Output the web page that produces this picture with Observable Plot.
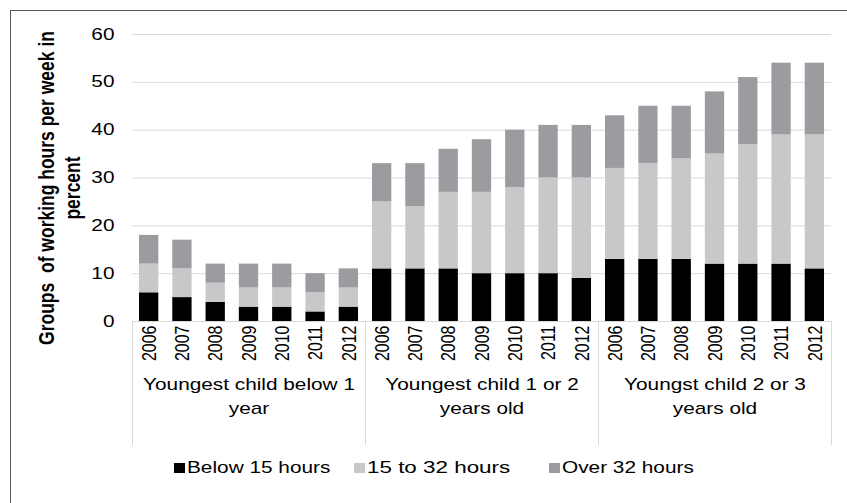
<!DOCTYPE html>
<html>
<head>
<meta charset="utf-8">
<script src="https://cdn.jsdelivr.net/npm/d3@7"></script>
<script src="https://cdn.jsdelivr.net/npm/@observablehq/plot@0.6"></script>
<style>
  html, body { margin: 0; padding: 0; background: #fff; }
  #wrap { position: relative; width: 847px; height: 503px; overflow: hidden; font-family: "Liberation Sans", Arial, sans-serif; }
  #frameTop { position: absolute; left: 10px; top: 10px; width: 837px; height: 0; border-top: 1px solid #595959; }
  #frameLeft { position: absolute; left: 10px; top: 10px; width: 0; height: 493px; border-left: 1px solid #595959; }
  #chart { position: absolute; left: 0; top: 0; }
  #legend { position: absolute; left: 0; top: 456px; width: 847px; height: 24px; font-size: 16px; line-height: 24px; color: #000; white-space: nowrap; }
  .sw { position: absolute; top: 7px; width: 11px; height: 10px; }
  .lt { position: absolute; top: 0; transform-origin: 0 50%; }
</style>
</head>
<body>
<div id="wrap">
  <div id="frameTop"></div>
  <div id="frameLeft"></div>
  <div id="chart"></div>
  <div id="legend"></div>
</div>
<script>
// ---- data ----
const groups = ["Youngest child below 1\nyear", "Youngest child 1 or 2\nyears old", "Youngst child 2 or 3\nyears old"];
const years = ["2006", "2007", "2008", "2009", "2010", "2011", "2012"];
const seriesNames = ["Below 15 hours", "15 to 32 hours", "Over 32 hours"];
const seriesColors = ["#000000", "#c7c8ca", "#9b9c9f"];
const below15 = [6, 5, 4, 3, 3, 2, 3, 11, 11, 11, 10, 10, 10, 9, 13, 13, 13, 12, 12, 12, 11];
const from15to32 = [6, 6, 4, 4, 4, 4, 4, 14, 13, 16, 17, 18, 20, 21, 19, 20, 21, 23, 25, 27, 28];
const over32 = [6, 6, 4, 5, 5, 4, 4, 8, 9, 9, 11, 12, 11, 11, 11, 12, 11, 13, 14, 15, 15];
const yTicks = [0, 10, 20, 30, 40, 50, 60];
const yTitle = "Groups  of working hours per week in\npercent";

// ---- table ----
const seriesValues = [below15, from15to32, over32];
const nBars = groups.length * years.length;
const rows = [];
for (let i = 0; i < nBars; i++) {
  seriesNames.forEach((s, si) => rows.push({i, year: years[i % years.length], series: s, value: seriesValues[si][i]}));
}
const barCenters = d3.range(nBars).map(i => i + 0.5);
const groupCenters = groups.map((g, gi) => gi * years.length + years.length / 2);
const groupBounds = d3.range(groups.length + 1).map(gi => gi * years.length);
const pad = 0.21;
const grid = "#d9d9d9";
const stretch = 1.3;

const plot = Plot.plot({
  width: 847,
  height: 455,
  marginTop: 34,
  marginBottom: 134,
  marginLeft: 132,
  marginRight: 16,
  style: {fontFamily: "'Liberation Sans', Arial, sans-serif", fontSize: "16px", color: "#000", background: "transparent", overflow: "visible"},
  x: {domain: [0, nBars], axis: null},
  y: {domain: [0, 60], axis: null},
  color: {domain: seriesNames, range: seriesColors},
  marks: [
    Plot.gridY(yTicks, {stroke: grid, strokeOpacity: 1}),
    Plot.rectY(rows, {x1: d => d.i + pad, x2: d => d.i + 1 - pad, y: "value", fill: "series"}),
    Plot.axisY(yTicks, {tickSize: 0, tickPadding: 18, fontSize: 16, label: null}),
    Plot.axisX(groupBounds, {tickSize: 124, tickFormat: () => "", stroke: grid, label: null}),
    Plot.axisX(barCenters, {tickSize: 0, tickPadding: 4, tickRotate: -90, fontSize: 16, tickFormat: v => years[Math.floor(v) % years.length], label: null}),
    Plot.axisX(groupCenters, {tickSize: 0, tickPadding: 51, fontSize: 16, lineHeight: 1.5, tickFormat: v => groups[Math.floor(v / years.length)], label: null}),
    Plot.ruleY([0], {stroke: grid}),
    Plot.text([yTitle], {frameAnchor: "left", textAnchor: "middle", lineAnchor: "middle", rotate: -90, dx: -73.5, dy: 10, fontWeight: "bold", fontSize: 17.5, lineHeight: 1.12, fill: "#000"})
  ]
});
document.getElementById("chart").appendChild(plot);

// widen the text horizontally, as in the reference
plot.querySelectorAll("text").forEach(t => {
  let tr = t.getAttribute("transform");
  if (!tr) {
    const x = +(t.getAttribute("x") || 0), y = +(t.getAttribute("y") || 0);
    t.removeAttribute("x"); t.removeAttribute("y");
    tr = `translate(${x},${y})`;
  }
  const s = t.getAttribute("font-weight") === "bold" ? 1.38 : stretch;
  t.setAttribute("transform", tr + (/rotate/.test(tr) ? ` scale(1,${s})` : ` scale(${s},1)`));
});

// ---- legend ----
const legend = document.getElementById("legend");
const legendLefts = [174, 354, 549];
const legendStretch = [1.3, 1.4, 1.3];
seriesNames.forEach((s, si) => {
  const sw = document.createElement("span");
  sw.className = "sw";
  sw.style.left = legendLefts[si] + "px";
  sw.style.background = seriesColors[si];
  legend.appendChild(sw);
  const lt = document.createElement("span");
  lt.className = "lt";
  lt.style.left = (legendLefts[si] + 13) + "px";
  lt.style.transform = `scaleX(${legendStretch[si]})`;
  lt.textContent = s;
  legend.appendChild(lt);
});
</script>
</body>
</html>
